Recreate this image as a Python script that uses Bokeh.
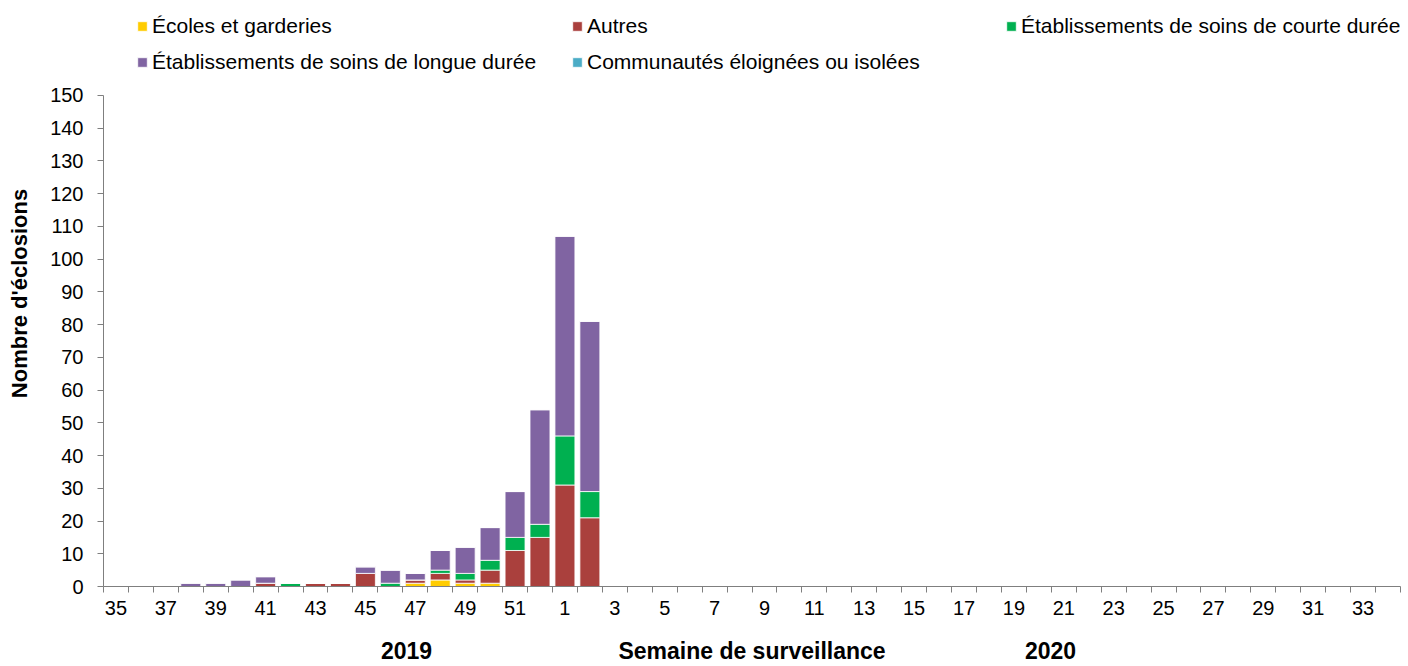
from bokeh.plotting import figure
from bokeh.models import (Range1d, FixedTicker, Legend, LegendItem, LinearAxis,
                          ColumnDataSource)
from bokeh.embed import file_html
from bokeh.resources import INLINE

# ---- data ----
weeks = ["35", "36", "37", "38", "39", "40", "41", "42", "43", "44", "45", "46",
         "47", "48", "49", "50", "51", "52",
         "1", "2", "3", "4", "5", "6", "7", "8", "9", "10", "11", "12", "13", "14",
         "15", "16", "17", "18", "19", "20", "21", "22", "23", "24", "25", "26",
         "27", "28", "29", "30", "31", "32", "33", "34"]

ecoles = [0, 0, 0, 0, 0, 0, 0, 0, 0, 0, 0, 0, 1, 2, 1, 1, 0, 0,
          0, 0, 0, 0, 0, 0, 0, 0, 0, 0, 0, 0, 0, 0, 0, 0, 0, 0, 0, 0, 0, 0, 0, 0,
          0, 0, 0, 0, 0, 0, 0, 0, 0, 0]
autres = [0, 0, 0, 0, 0, 0, 1, 0, 1, 1, 4, 0, 1, 2, 1, 4, 11, 15,
          31, 21, 0, 0, 0, 0, 0, 0, 0, 0, 0, 0, 0, 0, 0, 0, 0, 0, 0, 0, 0, 0, 0, 0,
          0, 0, 0, 0, 0, 0, 0, 0, 0, 0]
courte = [0, 0, 0, 0, 0, 0, 0, 1, 0, 0, 0, 1, 0, 1, 2, 3, 4, 4,
          15, 8, 0, 0, 0, 0, 0, 0, 0, 0, 0, 0, 0, 0, 0, 0, 0, 0, 0, 0, 0, 0, 0, 0,
          0, 0, 0, 0, 0, 0, 0, 0, 0, 0]
longue = [0, 0, 0, 1, 1, 2, 2, 0, 0, 0, 2, 4, 2, 6, 8, 10, 14, 35,
          61, 52, 0, 0, 0, 0, 0, 0, 0, 0, 0, 0, 0, 0, 0, 0, 0, 0, 0, 0, 0, 0, 0, 0,
          0, 0, 0, 0, 0, 0, 0, 0, 0, 0]
communautes = [0] * 52

series_names = ["Écoles et garderies", "Autres", "Établissements de soins de courte durée",
                "Établissements de soins de longue durée", "Communautés éloignées ou isolées"]
series_keys = ["ecoles", "autres", "courte", "longue", "communautes"]
colors = ["#FFCC00", "#AA403D", "#00B050", "#8064A2", "#4BACC6"]

y_ticks = [0, 10, 20, 30, 40, 50, 60, 70, 80, 90, 100, 110, 120, 130, 140, 150]
year_labels = ["2019", "2020"]

FONT = "Liberation Sans"

# ---- layout constants ----
legend_spots = [(33, 548), (468, 548), (902, 548), (33, 512), (468, 512)]
year_x = [12.15, 37.97]

# ---- build ----
x = [i + 0.5 for i in range(len(weeks))]
source = ColumnDataSource(dict(x=x, week=weeks, ecoles=ecoles, autres=autres,
                               courte=courte, longue=longue, communautes=communautes))

p = figure(width=1408, height=666, x_range=Range1d(0, len(weeks)), y_range=Range1d(0, 179.0),
           output_backend="svg", toolbar_location=None,
           min_border_left=103, min_border_right=8, min_border_top=0, min_border_bottom=79)

renderers = p.vbar_stack(series_keys, x="x", width=0.8, source=source, color=colors,
                         line_color="white", line_width=0.8)

# x axis: labels under every other week, tick marks between weeks
major_pos = [x[i] for i in range(0, len(weeks), 2)]
p.xaxis.ticker = FixedTicker(ticks=major_pos, minor_ticks=list(range(len(weeks) + 1)))
p.xaxis.major_label_overrides = {x[i]: weeks[i] for i in range(0, len(weeks), 2)}
p.xaxis.major_tick_line_color = None
p.xaxis.major_tick_out = 0
p.xaxis.major_tick_in = 0
p.xaxis.minor_tick_out = 6
p.xaxis.minor_tick_in = 0
p.xaxis.minor_tick_line_color = "#7F7F7F"
p.xaxis.axis_line_color = "#7F7F7F"
p.xaxis.major_label_standoff = 8
p.xaxis.major_label_text_font = FONT
p.xaxis.major_label_text_font_size = "20px"
p.xaxis.major_label_text_color = "black"

# second row under the week labels: years + axis title on one line
year_axis = LinearAxis(ticker=FixedTicker(ticks=year_x),
                       major_label_overrides={xp: t for xp, t in zip(year_x, year_labels)},
                       axis_line_color=None, major_tick_line_color=None,
                       minor_tick_line_color=None, major_tick_out=0, major_tick_in=0,
                       major_label_standoff=24,
                       major_label_text_font=FONT, major_label_text_font_size="23px",
                       major_label_text_font_style="bold", major_label_text_color="black",
                       axis_label="Semaine de surveillance", axis_label_standoff=-24,
                       axis_label_text_font=FONT, axis_label_text_font_size="23px",
                       axis_label_text_font_style="bold", axis_label_text_color="black")
p.add_layout(year_axis, "below")

p.yaxis.ticker = FixedTicker(ticks=y_ticks)
p.yaxis.bounds = (0, 150)
p.yaxis.minor_tick_line_color = None
p.yaxis.major_tick_out = 6
p.yaxis.major_tick_in = 0
p.yaxis.major_tick_line_color = "#7F7F7F"
p.yaxis.axis_line_color = "#7F7F7F"
p.yaxis.major_label_standoff = 14
p.yaxis.major_label_text_font = FONT
p.yaxis.major_label_text_font_size = "20px"
p.yaxis.major_label_text_color = "black"
p.yaxis.axis_label = "Nombre d'éclosions"
p.yaxis.axis_label_standoff = 15
p.yaxis.axis_label_text_font = FONT
p.yaxis.axis_label_text_font_size = "22px"
p.yaxis.axis_label_text_font_style = "bold"
p.yaxis.axis_label_text_color = "black"

p.xgrid.visible = False
p.ygrid.visible = False
p.outline_line_color = None

for name, r, loc in zip(series_names, renderers, legend_spots):
    lg = Legend(items=[LegendItem(label=name, renderers=[r])], location=loc,
                orientation="horizontal",
                label_text_font=FONT, label_text_font_size="21px", label_text_color="black",
                label_text_baseline="middle",
                glyph_width=12, glyph_height=12, label_standoff=4, spacing=0,
                label_height=24, padding=0, margin=0, border_line_color=None,
                background_fill_alpha=0)
    p.add_layout(lg)

open("out.html", "w").write(file_html(p, INLINE))
